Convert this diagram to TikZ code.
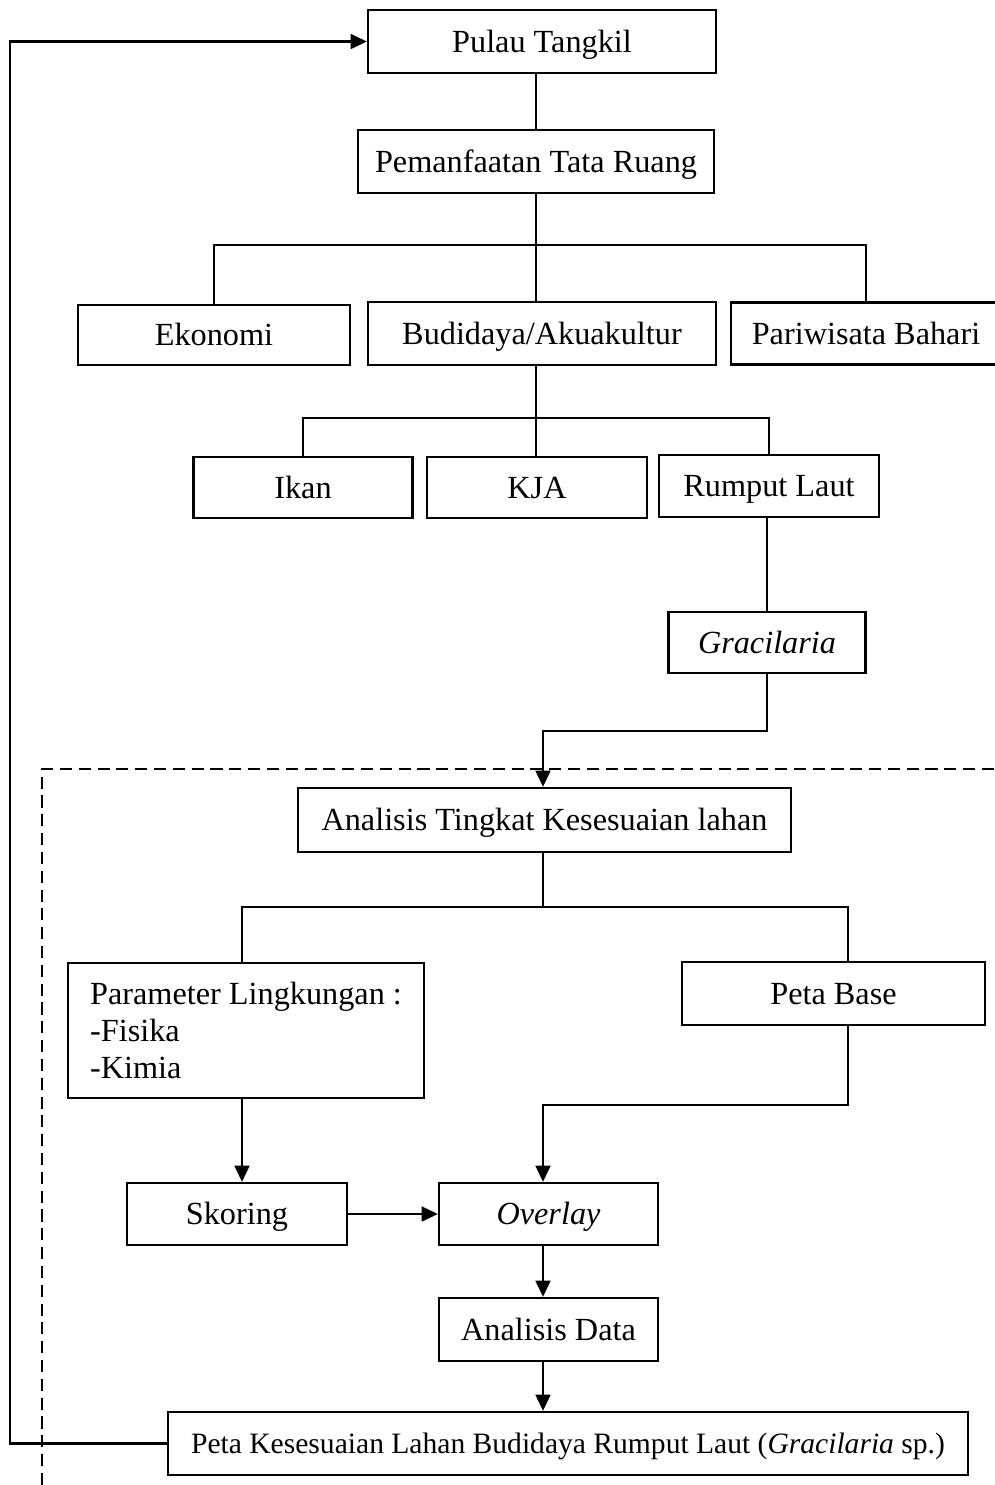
\documentclass[tikz,border=0pt]{standalone}
\usepackage{fontspec}
\setmainfont{Liberation Serif}
\usetikzlibrary{arrows.meta}

\begin{document}
\begin{tikzpicture}[x=0.372pt, y=-0.372pt,
    kotak/.style 2 args={draw, line width=0.85pt, inner sep=0pt,
        minimum width=#1*0.372pt, minimum height=#2*0.372pt,
        text height=8pt, text depth=0pt,
        font=\fontsize{12}{13.8}\selectfont},
    garis/.style={line width=0.8pt},
    panah/.style={line width=0.8pt, -{Triangle[length=6pt, width=5.5pt]}}]
    \useasboundingbox (0,0) rectangle (995,1485);

    % Tata ruang
    \node[kotak={348}{63}] (pulau) at (542,41.5) {Pulau Tangkil};
    \node[kotak={356}{63}] (ruang) at (536,161.5) {Pemanfaatan Tata Ruang};
    \draw[garis] (pulau.south -| ruang.north) -- (ruang.north);

    \node[kotak={272}{60}] (ekonomi) at (214,335) {Ekonomi};
    \node[kotak={348}{63}] (budidaya) at (542,333.5) {Budidaya/Akuakultur};
    \node[kotak={270}{62}] (pariwisata) at (866,333.5) {Pariwisata Bahari};
    \coordinate (cabang1) at (536,245);
    \draw[garis] (ruang.south) -- (ruang.south |- budidaya.north);
    \draw[garis] (ekonomi.north) |- (cabang1) -| (pariwisata.north);

    % Budidaya
    \node[kotak={219}{61}] (ikan) at (303,487.5) {Ikan};
    \node[kotak={220}{61}] (kja) at (537,487.5) {KJA};
    \node[kotak={220}{62}] (rumput) at (769,486) {Rumput Laut};
    \coordinate (cabang2) at (536,418);
    \draw[garis] (budidaya.south -| cabang2) -- (kja.north -| cabang2);
    \draw[garis] (ikan.north) |- (cabang2) -| (rumput.north);

    \node[kotak={197}{61}] (gracilaria) at (767,642.5) {\textit{Gracilaria}};
    \draw[garis] (rumput.south -| gracilaria.north) -- (gracilaria.north);

    % Analisis
    \draw[garis, dash pattern=on 4.5pt off 2.5pt] (42,1485) |- (995,769);

    \node[kotak={493}{64}] (analisis) at (544.5,820) {Analisis Tingkat Kesesuaian lahan};
    \coordinate (kol) at (543,0);
    \coordinate (belok1) at (543,731);
    \draw[panah] (gracilaria.south) |- (belok1) -- (analisis.north -| kol);

    \node[draw, line width=0.85pt, inner sep=0pt, minimum width=356*0.372pt,
        minimum height=135*0.372pt, align=left, font=\fontsize{12}{13.8}\selectfont]
        (parameter) at (246,1030.5) {Parameter Lingkungan :\\-Fisika\\-Kimia};
    \node[kotak={303}{63}] (petabase) at (833.5,993.5) {Peta Base};
    \coordinate (cabang3) at (543,907);
    \coordinate (pb) at (848,962);
    \draw[garis] (analisis.south -| kol) -- (cabang3);
    \draw[garis] (242,963) |- (cabang3) -| (pb);

    \node[kotak={220}{62}] (skoring) at (237,1214) {Skoring};
    \node[kotak={219}{62}] (overlay) at (548.5,1214) {\textit{Overlay}};
    \coordinate (pb2) at (848,1025);
    \coordinate (belok2) at (543,1105);
    \draw[panah] (242,1098) -- (skoring.north -| 242,0);
    \draw[panah] (pb2) |- (belok2) -- (overlay.north -| kol);
    \draw[panah] (skoring.east) -- (overlay.west);

    % Hasil
    \node[kotak={219}{63}] (analisisdata) at (548.5,1329.5) {Analisis Data};
    \node[kotak={800}{63}, text height=7.4pt, font=\fontsize{11}{13}\selectfont] (petahasil) at (568,1443.5)
        {Peta Kesesuaian Lahan Budidaya Rumput Laut (\textit{Gracilaria} sp.)};
    \draw[panah] (overlay.south -| kol) -- (analisisdata.north -| kol);
    \draw[panah] (analisisdata.south -| kol) -- (petahasil.north -| kol);

    % Umpan balik
    \coordinate (kiri) at (10,700);
    \draw[panah] (petahasil.west) -| (kiri) |- (pulau.west);
\end{tikzpicture}
\end{document}
